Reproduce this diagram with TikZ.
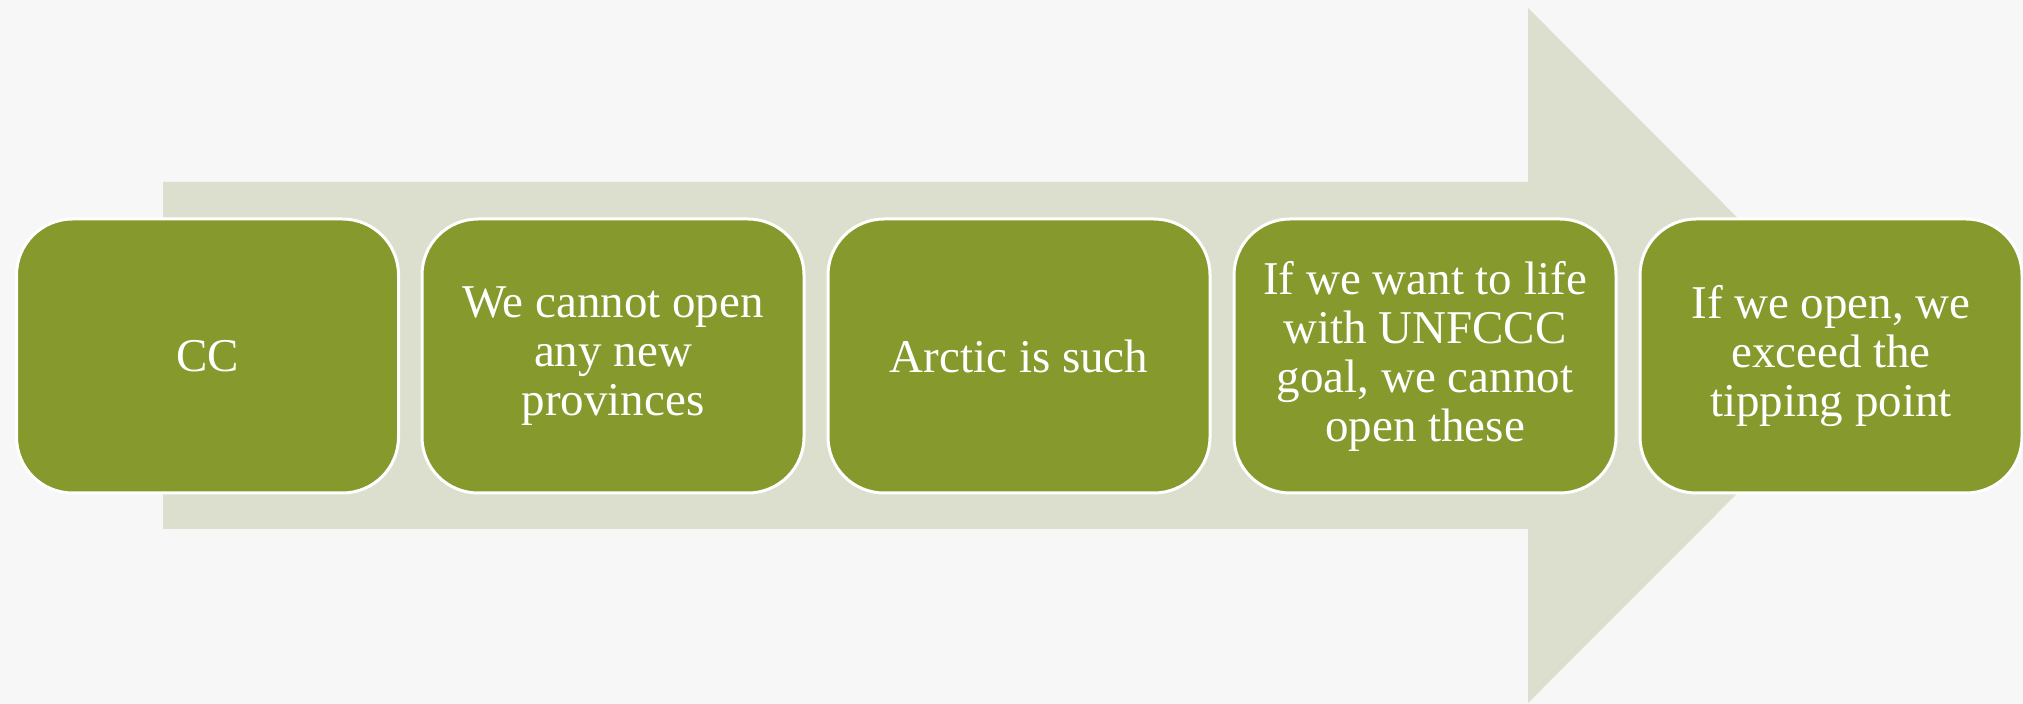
\documentclass[tikz,border=0pt]{standalone}
\usepackage{fontspec}
\setmainfont{Liberation Serif}
\definecolor{bgcol}{HTML}{F7F7F7}
\definecolor{arrowgray}{HTML}{DCDFCE}
\definecolor{boxgreen}{HTML}{86992C}
\begin{document}
\begin{tikzpicture}[x=0.5pt,y=-0.5pt,
  stepbox/.style={draw=white, line width=1.5pt, fill=boxgreen,
    rounded corners=28pt, minimum width=191pt, minimum height=137pt,
    text=white, align=center, inner sep=0pt,
    font=\fontsize{23.5}{24.5}\selectfont}]
\fill[bgcol] (0,0) rectangle (2023,704);
\useasboundingbox (0,0) rectangle (2023,704);
\fill[arrowgray] (163,182) -- (1528,182) -- (1528,8) -- (1875,355.5)
  -- (1528,703) -- (1528,529) -- (163,529) -- cycle;
\node[stepbox] (b1) at (207.5,356) {CC};
\node[stepbox] (b2) at (613,356) {We cannot open\\any new\\provinces};
\node[stepbox] (b3) at (1019,356) {Arctic is such};
\node[stepbox] (b4) at (1425,356) {If we want to life\\with UNFCCC\\goal, we cannot\\open these};
\node[stepbox] (b5) at (1831,356) {If we open, we\\exceed the\\tipping point};
\end{tikzpicture}
\end{document}
